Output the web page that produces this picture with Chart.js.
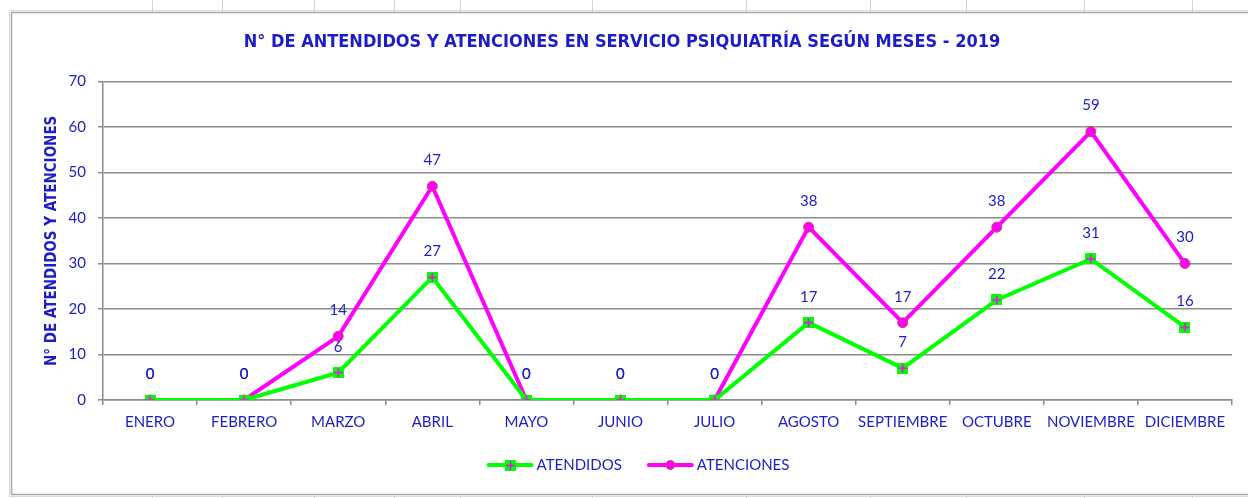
<!DOCTYPE html>
<html>
<head>
<meta charset="utf-8">
<script src="https://cdn.jsdelivr.net/npm/chart.js@4.4.1/dist/chart.umd.min.js"></script>
<style>
  html, body { margin: 0; padding: 0; background: #fff; }
  #wrap { width: 1248px; height: 498px; position: relative; }
</style>
</head>
<body>
<div id="wrap"><canvas id="grafico"></canvas></div>
<script>
// datos
const meses = ["ENERO", "FEBRERO", "MARZO", "ABRIL", "MAYO", "JUNIO", "JULIO",
  "AGOSTO", "SEPTIEMBRE", "OCTUBRE", "NOVIEMBRE", "DICIEMBRE"];
const atendidos = [0, 0, 6, 27, 0, 0, 0, 17, 7, 22, 31, 16];
const atenciones = [0, 0, 14, 47, 0, 0, 0, 38, 17, 38, 59, 30];
const yMin = 0, yMax = 70, yPaso = 10;

const AZUL = "#1c1cc8";
const VERDE = "#00ff00";
const MAGENTA = "#ff00ff";
const FUENTE = "Lato, 'Open Sans', sans-serif";
const FUENTE_NEGRITA = "'DejaVu Sans Condensed', 'DejaVu Sans', sans-serif";

// marcador cuadrado verde con cruz magenta
function marcaCruz() {
  const c = document.createElement("canvas");
  c.width = 11; c.height = 11;
  const g = c.getContext("2d");
  g.fillStyle = VERDE;
  g.fillRect(0, 0, 11, 11);
  g.strokeStyle = MAGENTA;
  g.lineWidth = 1.5;
  g.beginPath();
  g.moveTo(5.5, 1); g.lineTo(5.5, 10);
  g.moveTo(1, 5.5); g.lineTo(10, 5.5);
  g.stroke();
  return c;
}

const cruz = marcaCruz();

// fondo de hoja de calculo y borde del grafico
const fondo = {
  id: "fondo",
  beforeDraw(chart) {
    const ctx = chart.ctx;
    ctx.save();
    ctx.fillStyle = "#fff";
    ctx.fillRect(0, 0, chart.width, chart.height);
    ctx.strokeStyle = "#d4d4d4";
    ctx.lineWidth = 1;
    [152, 222, 314, 394, 460, 592, 746, 870, 966, 1084, 1192].forEach(x => {
      ctx.beginPath(); ctx.moveTo(x + 0.5, 0); ctx.lineTo(x + 0.5, 12); ctx.stroke();
      ctx.beginPath(); ctx.moveTo(x + 0.5, 496); ctx.lineTo(x + 0.5, 498); ctx.stroke();
    });
    ctx.strokeStyle = "#a6a6a6";
    ctx.lineWidth = 1.5;
    ctx.strokeRect(11.5, 12.5, 1260, 482);
    ctx.strokeStyle = "#dcdcdc";
    ctx.lineWidth = 1;
    ctx.strokeRect(9.5, 10.5, 1260, 486);
    ctx.restore();
  }
};

// etiquetas de valor sobre cada punto
const etiquetas = {
  id: "etiquetas",
  afterDatasetsDraw(chart) {
    const ctx = chart.ctx;
    ctx.save();
    ctx.font = "15px " + FUENTE;
    ctx.fillStyle = AZUL;
    ctx.textAlign = "center";
    ctx.textBaseline = "middle";
    chart.data.datasets.forEach((ds, i) => {
      chart.getDatasetMeta(i).data.forEach((p, j) => {
        ctx.fillText(ds.data[j], p.x, p.y - 26);
      });
    });
    ctx.restore();
  }
};

// leyenda inferior: linea con marcador y texto
const leyenda = {
  id: "leyenda",
  afterDraw(chart) {
    const ctx = chart.ctx;
    const y = 465, largo = 47, sep = 3, entre = 25;
    ctx.save();
    ctx.font = "15px " + FUENTE;
    const items = chart.data.datasets.map(ds => ({ ds, w: ctx.measureText(ds.label).width }));
    const total = items.reduce((a, it) => a + largo + sep + it.w, 0) + entre * (items.length - 1);
    let x = 638 - total / 2;
    items.forEach((it, i) => {
      ctx.strokeStyle = it.ds.borderColor;
      ctx.lineWidth = 4;
      ctx.lineCap = "round";
      ctx.beginPath(); ctx.moveTo(x + 2, y); ctx.lineTo(x + largo - 2, y); ctx.stroke();
      const cx = x + largo / 2;
      if (i === 0) {
        ctx.drawImage(cruz, Math.round(cx - 5.5), Math.round(y - 5.5));
      } else {
        ctx.fillStyle = MAGENTA;
        ctx.strokeStyle = "#c0504d";
        ctx.lineWidth = 1;
        ctx.beginPath(); ctx.arc(cx, y, 4.5, 0, Math.PI * 2); ctx.fill(); ctx.stroke();
      }
      ctx.fillStyle = AZUL;
      ctx.textAlign = "left";
      ctx.textBaseline = "middle";
      ctx.fillText(it.ds.label, x + largo + sep, y);
      x += largo + sep + it.w + entre;
    });
    ctx.restore();
  }
};

new Chart(document.getElementById("grafico"), {
  type: "line",
  data: {
    labels: meses,
    datasets: [
      {
        label: "ATENDIDOS",
        data: atendidos,
        borderColor: VERDE,
        backgroundColor: VERDE,
        borderWidth: 4,
        pointStyle: cruz,
        tension: 0
      },
      {
        label: "ATENCIONES",
        data: atenciones,
        borderColor: MAGENTA,
        backgroundColor: MAGENTA,
        borderWidth: 4,
        pointStyle: "circle",
        pointRadius: 5,
        pointBackgroundColor: MAGENTA,
        pointBorderColor: "#c0504d",
        pointBorderWidth: 1,
        tension: 0
      }
    ]
  },
  options: {
    responsive: true,
    maintainAspectRatio: false,
    animation: false,
    events: [],
    layout: { padding: { left: 12, right: 16, top: 12, bottom: 63 } },
    scales: {
      x: {
        offset: true,
        afterFit(s) { s.height = 35; },
        grid: { drawOnChartArea: false, offset: true, tickLength: 5, color: "#8c8c8c", lineWidth: 1.5 },
        border: { color: "#8c8c8c", width: 1.5 },
        ticks: {
          color: AZUL, padding: 8, autoSkip: false, minRotation: 0, maxRotation: 0,
          font: { family: FUENTE, size: 15 }
        }
      },
      y: {
        min: yMin,
        max: yMax,
        afterFit(s) { s.width = 91; },
        grid: { color: "#8c8c8c", lineWidth: 1.5, tickLength: 5 },
        border: { color: "#8c8c8c", width: 1.5 },
        ticks: { stepSize: yPaso, color: AZUL, padding: 12, font: { family: FUENTE, size: 15 } },
        title: {
          display: true,
          text: "N° DE ATENDIDOS Y ATENCIONES",
          color: AZUL,
          padding: { top: 31, bottom: 0 },
          font: { family: FUENTE_NEGRITA, size: 15, weight: "bold" }
        }
      }
    },
    plugins: {
      title: {
        display: true,
        text: "N° DE ANTENDIDOS Y ATENCIONES EN SERVICIO PSIQUIATRÍA SEGÚN MESES - 2019",
        color: AZUL,
        padding: { top: 20, bottom: 28 },
        font: { family: FUENTE_NEGRITA, size: 18, weight: "bold" }
      },
      legend: { display: false },
      tooltip: { enabled: false }
    }
  },
  plugins: [fondo, etiquetas, leyenda]
});
</script>
</body>
</html>
